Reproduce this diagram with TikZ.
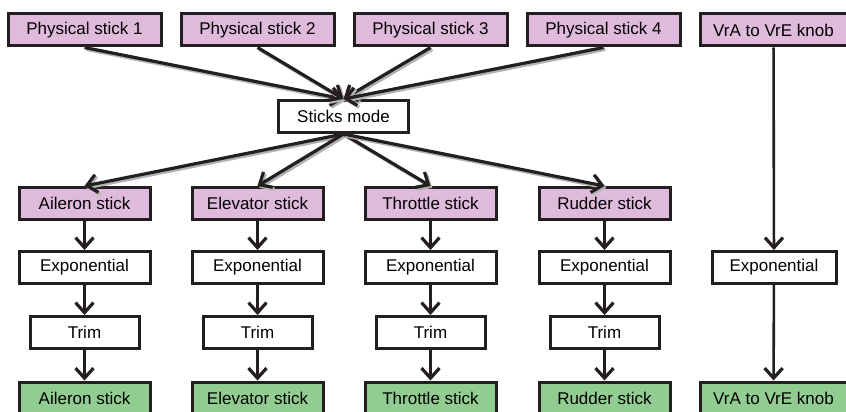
\documentclass[tikz,border=0pt]{standalone}
\usepackage{fontspec}
\setmainfont{Liberation Sans}
\usetikzlibrary{arrows.meta}
\definecolor{stickpink}{RGB}{223,186,219}
\definecolor{outgreen}{RGB}{145,205,145}
\definecolor{edgegray}{RGB}{35,31,32}
\tikzset{
  box/.style={draw=edgegray, line width=3pt, inner sep=0pt, minimum height=32pt, font=\fontsize{17}{19}\selectfont},
  inbox/.style={box, fill=stickpink},
  outbox/.style={box, fill=outgreen},
  stagebox/.style={box, fill=white},
  flow/.style={draw=edgegray, line width=3.2pt, -{Straight Barb[length=10pt,width=18pt,line width=3.2pt]}},
  fan/.style={flow, preaction={draw=gray!60, line width=3.4pt, transform canvas={xshift=1.8pt,yshift=-1.8pt}}}
}
\begin{document}
\begin{tikzpicture}[x=1pt,y=-1pt]
\useasboundingbox (0,0) rectangle (846,412);

% physical inputs
\node[inbox, minimum width=153pt] (p1) at (84.5,30) {Physical stick 1};
\node[inbox, minimum width=153pt] (p2) at (257.5,30) {Physical stick 2};
\node[inbox, minimum width=153pt] (p3) at (430.5,30) {Physical stick 3};
\node[inbox, minimum width=153pt] (p4) at (603.5,30) {Physical stick 4};
\node[inbox, minimum width=147pt] (k1) at (773.5,30) {VrA to VrE knob};

\node[stagebox, minimum width=130pt] (sm) at (343.5,116.5) {Sticks mode};

% sticks after mode
\node[inbox, minimum width=131pt] (a1) at (84.5,203.5) {Aileron stick};
\node[inbox, minimum width=131pt] (e1) at (257.5,203.5) {Elevator stick};
\node[inbox, minimum width=131pt] (t1) at (430.5,203.5) {Throttle stick};
\node[inbox, minimum width=131pt] (r1) at (604.5,203.5) {Rudder stick};

% exponential
\node[stagebox, minimum width=131pt] (a2) at (84.5,267.5) {Exponential};
\node[stagebox, minimum width=131pt] (e2) at (257.5,267.5) {Exponential};
\node[stagebox, minimum width=131pt] (t2) at (430.5,267.5) {Exponential};
\node[stagebox, minimum width=131pt] (r2) at (604.5,267.5) {Exponential};
\node[stagebox, minimum width=124pt] (k2) at (774,267.5) {Exponential};

% trim
\node[stagebox, minimum width=109pt] (a3) at (84.5,332.5) {Trim};
\node[stagebox, minimum width=109pt] (e3) at (257.5,332.5) {Trim};
\node[stagebox, minimum width=109pt] (t3) at (430.5,332.5) {Trim};
\node[stagebox, minimum width=109pt] (r3) at (604.5,332.5) {Trim};

% outputs
\node[outbox, minimum width=131pt] (a4) at (84.5,398) {Aileron stick};
\node[outbox, minimum width=131pt] (e4) at (257.5,398) {Elevator stick};
\node[outbox, minimum width=131pt] (t4) at (430.5,398) {Throttle stick};
\node[outbox, minimum width=131pt] (r4) at (604.5,398) {Rudder stick};
\node[outbox, minimum width=147pt] (k4) at (773.5,398) {VrA to VrE knob};

\draw[fan] (p1.south) -- (sm.north);
\draw[fan] (p2.south) -- (sm.north);
\draw[fan] (p3.south) -- (sm.north);
\draw[fan] (p4.south) -- (sm.north);

\draw[fan] (sm.south) -- (a1.north);
\draw[fan] (sm.south) -- (e1.north);
\draw[fan] (sm.south) -- (t1.north);
\draw[fan] (sm.south) -- (r1.north);

\foreach \c in {a,e,t,r}{
  \draw[flow] (\c1) -- (\c2);
  \draw[flow] (\c2) -- (\c3);
  \draw[flow] (\c3) -- (\c4);
}

\draw[flow, line width=2.6pt] (k1) -- (k2);
\draw[flow, line width=2.6pt] (k2) -- (k4);

\end{tikzpicture}
\end{document}
